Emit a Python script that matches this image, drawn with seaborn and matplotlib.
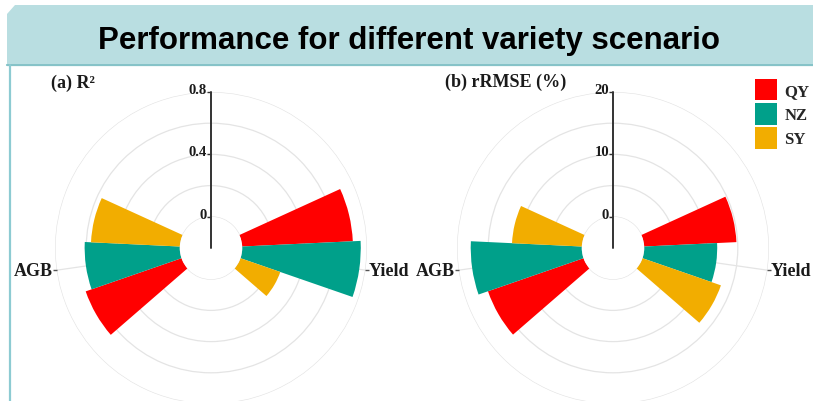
import numpy as np
import pandas as pd
import matplotlib
matplotlib.use("Agg")
import matplotlib.pyplot as plt
import matplotlib.transforms as mtransforms
from matplotlib.patches import Polygon, Patch
from matplotlib.lines import Line2D
import seaborn as sns

# ---- data -------------------------------------------------------------
traits = ["Yield", "AGB"]
varieties = ["QY", "NZ", "SY"]
colors = ["#FF0000", "#00A08A", "#F2AD00"]

r2_qy = [0.71, 0.65]
r2_nz = [0.76, 0.61]
r2_sy = [0.27, 0.57]
r2_ticks = [0, 0.4, 0.8]
r2_ticklabels = ["0", "0.4", "0.8"]
r2_grid = [0, 0.2, 0.4, 0.6, 0.8]

rrmse_qy = [14.8, 16.2]
rrmse_nz = [11.7, 17.8]
rrmse_sy = [13.3, 11.2]
rrmse_ticks = [0, 10, 20]
rrmse_ticklabels = ["0", "10", "20"]
rrmse_grid = [0, 5, 10, 15, 20]

title = "Performance for different variety scenario"
panel_titles = ["(a) R\u00b2", "(b) rRMSE (%)"]

# ---- style ------------------------------------------------------------
sns.set_theme(style="white")
plt.rcParams["font.family"] = ["Liberation Serif", "DejaVu Serif"]
TXT = "#1a1a1a"

W, H = 813, 402
fig = plt.figure(figsize=(W / 100, H / 100), dpi=100)
fig.patch.set_facecolor("white")

# pixel coordinates (origin top-left) -> figure fraction
px = mtransforms.Affine2D().scale(1 / W, -1 / H).translate(0, 1) + fig.transFigure


def theta_of(pos, n=len(traits)):
    """Discrete angular scale: positions 1..n padded by 0.6, clockwise from north."""
    lo, hi = 1 - 0.6, n + 0.6
    return (pos - lo) / (hi - lo) * 2 * np.pi


def long_table(qy, nz, sy):
    rows = []
    for name, vals in zip(varieties, [qy, nz, sy]):
        for i, (t, v) in enumerate(zip(traits, vals)):
            rows.append({"theta": theta_of(i + 1), "trait": t,
                         "variety": name, "value": v})
    return pd.DataFrame(rows)


def draw_panel(ax, df, rorigin, rmax, grid, ticks, ticklabels):
    ax.set_theta_zero_location("N")
    ax.set_theta_direction(-1)
    sns.barplot(data=df, x="theta", y="value", hue="variety",
                hue_order=varieties, palette=colors, native_scale=True,
                orient="x", width=0.4, saturation=1, errorbar=None,
                legend=False, ax=ax, linewidth=0)
    ax.set_xlabel("")
    ax.set_ylabel("")
    ax.set_xlim(0, 2 * np.pi)
    ax.set_ylim(0, rmax)
    ax.set_rorigin(rorigin)

    th = [theta_of(i + 1) for i in range(len(traits))]
    ax.set_xticks(th)
    ax.set_xticklabels([])
    ax.set_yticks(grid)
    ax.set_yticklabels([])
    ax.grid(True, color="#e4e4e4", linewidth=0.9)
    ax.set_axisbelow(True)
    # polar draw() re-enables the inner spine, so blank it instead of hiding
    for s in ax.spines.values():
        s.set_visible(False)
        s.set_linewidth(0)
        s.set_edgecolor("none")
    ax.tick_params(axis="x", length=0, pad=0)
    ax.tick_params(axis="y", length=0)

    # radial axis drawn along the north direction
    ax.plot([0, 0], [rorigin, rmax], color="#333333", lw=1.4,
            clip_on=False, zorder=5)
    lab_tr = mtransforms.offset_copy(ax.transData, fig=fig, x=-4, y=-1,
                                     units="dots")
    for v, lab in zip(ticks, ticklabels):
        ax.plot([0], [v], marker=0, markersize=3, color="#333333",
                markeredgewidth=1, clip_on=False, zorder=5)
        ax.text(0, v, lab, transform=lab_tr, ha="right", va="baseline",
                fontsize=10.5, fontweight="bold", color=TXT, clip_on=False)

    # category ticks and labels outside the outer ring
    for t, name in zip(th, traits):
        right = np.sin(t) > 0
        ax.plot([t], [rmax * 1.012], marker="_", markersize=3,
                color="#555555", markeredgewidth=1, clip_on=False)
        tr = mtransforms.offset_copy(ax.transData, fig=fig,
                                     x=3.5 if right else -3.5, y=0,
                                     units="dots")
        ax.text(t, rmax, name, transform=tr, ha="left" if right else "right",
                va="center", fontsize=13, fontweight="bold", color=TXT,
                clip_on=False)


# ---- page decoration ----------------------------------------------------
bar = Polygon([(7, 15), (15, 6), (W, 6), (W, 65), (7, 65)], closed=True,
              transform=px, facecolor="#B9DEE1", edgecolor="none", zorder=0)
fig.patches.append(bar)
fig.lines.append(Line2D([7, W], [66, 66], transform=px, color="#86C3C8",
                        lw=1.6, zorder=0))
fig.lines.append(Line2D([9.5, 9.5], [66, H], transform=px, color="#8DCBD2",
                        lw=1.6, zorder=0))
fig.text(409 / W, 1 - 41 / H, title, ha="center", va="center",
         fontsize=22.5, fontweight="bold", family="Liberation Sans",
         color="black")

# ---- polar panels -------------------------------------------------------
size = 312
ax_a = fig.add_axes([(211 - size / 2) / W, 1 - (249 + size / 2) / H,
                     size / W, size / H], projection="polar")
ax_b = fig.add_axes([(613 - size / 2) / W, 1 - (249 + size / 2) / H,
                     size / W, size / H], projection="polar")
for ax in (ax_a, ax_b):
    ax.patch.set_alpha(0)

draw_panel(ax_a, long_table(r2_qy, r2_nz, r2_sy), -0.2, 0.8,
           r2_grid, r2_ticks, r2_ticklabels)
draw_panel(ax_b, long_table(rrmse_qy, rrmse_nz, rrmse_sy), -5, 20,
           rrmse_grid, rrmse_ticks, rrmse_ticklabels)

fig.text(51 / W, 1 - 83 / H, panel_titles[0], ha="left", va="center",
         fontsize=13, fontweight="bold", color=TXT)
fig.text(445 / W, 1 - 82 / H, panel_titles[1], ha="left", va="center",
         fontsize=13, fontweight="bold", color=TXT)

# ---- legend ---------------------------------------------------------------
handles = [Patch(facecolor=c, edgecolor="none") for c in colors]
fig.legend(handles, varieties, loc="upper left",
           bbox_to_anchor=(755 / W, 1 - 80 / H), frameon=False,
           borderpad=0, borderaxespad=0, handlelength=1.3,
           handleheight=1.6, handletextpad=0.45, labelspacing=0.16,
           prop={"size": 12, "weight": "bold"})

fig.savefig("out.png", dpi=100, facecolor="white")
